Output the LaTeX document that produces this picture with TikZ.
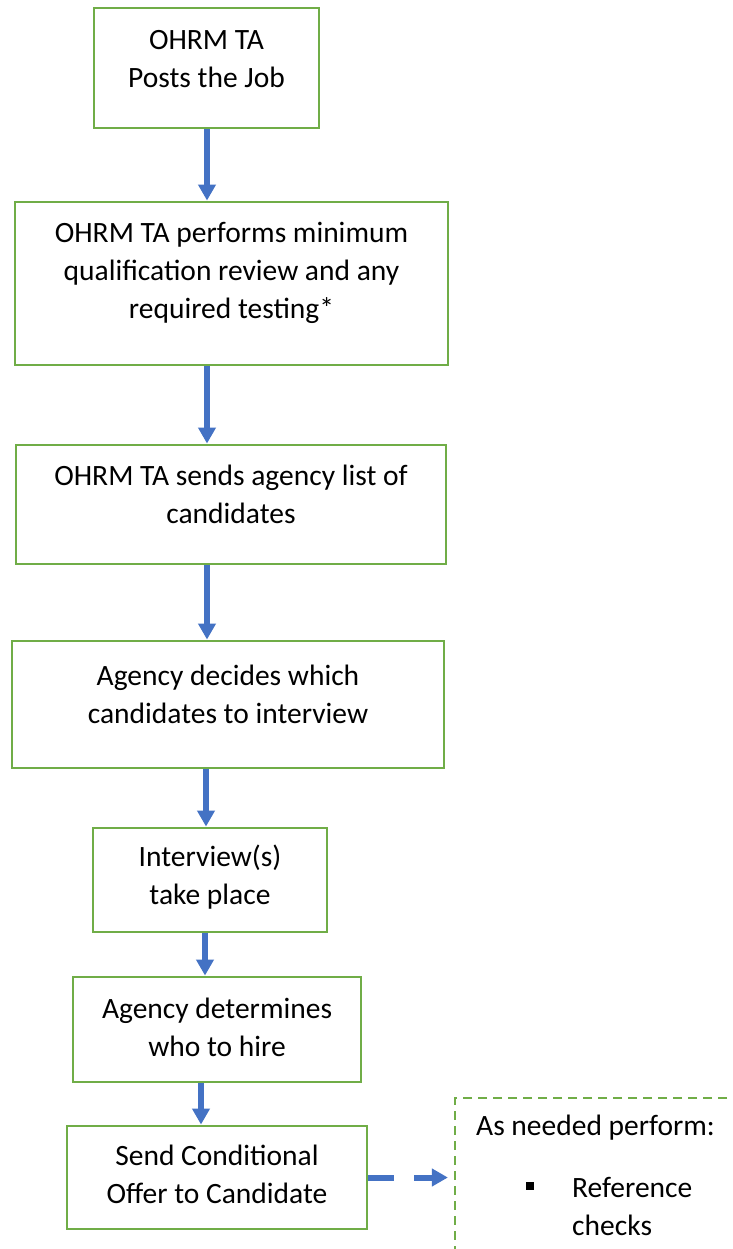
\documentclass[tikz,border=0pt]{standalone}
\usepackage{fontspec}
\setmainfont{Carlito}
\usetikzlibrary{arrows.meta}
\definecolor{boxgreen}{RGB}{112,173,71}
\definecolor{flowblue}{RGB}{68,114,196}
\tikzset{
  stepbox/.style={draw=boxgreen, line width=2.9pt, inner sep=0pt},
  notebox/.style={draw=boxgreen, line width=2.2pt, dash pattern=on 9pt off 6pt, inner sep=0pt},
  steptext/.style={align=center, font=\fontsize{29.5}{38}\selectfont, inner sep=0pt},
  notetext/.style={align=left, anchor=west, font=\fontsize{29.5}{38}\selectfont, inner sep=0pt},
  flow/.style={flowblue, line width=6pt, -{Triangle[width=17pt,length=16pt]}},
}

\begin{document}
\begin{tikzpicture}[x=1pt,y=-1pt]
\useasboundingbox (0,0) rectangle (732,1249);
\fill[white] (0,0) rectangle (732,1249);
\clip (0,0) rectangle (732,1249);

% the steps
\node[stepbox, minimum width=225, minimum height=120] (post) at (206.5,68) {};
\node[steptext] (post-t) at (206.5,59) {OHRM TA\\Posts the Job};

\node[stepbox, minimum width=433, minimum height=163] (review) at (231.5,283.5) {};
\node[steptext] (review-t) at (231.5,273) {OHRM TA performs minimum\\qualification review and any\\required testing*};

\node[stepbox, minimum width=430, minimum height=119] (sends) at (231,504.5) {};
\node[steptext] (sends-t) at (231,494.5) {OHRM TA sends agency list of\\candidates};

\node[stepbox, minimum width=432, minimum height=127] (decides) at (228,704.5) {};
\node[steptext] (decides-t) at (228,694) {Agency decides which\\candidates to interview};

\node[stepbox, minimum width=234, minimum height=104] (interview) at (210,880) {};
\node[steptext] (interview-t) at (210,877.5) {Interview(s)\\take place};

\node[stepbox, minimum width=288, minimum height=105] (hire) at (217,1029.5) {};
\node[steptext] (hire-t) at (217,1027.5) {Agency determines\\who to hire};

\node[stepbox, minimum width=300, minimum height=103] (offer) at (217,1177.5) {};
\node[steptext] (offer-t) at (217,1174) {Send Conditional\\Offer to Candidate};

% the optional checks
\node[notebox, minimum width=325, minimum height=192] (extra) at (617.5,1194) {};
\node[notetext] (extra-t) at (476,1128) {As needed perform:};
\node[fill, minimum size=8pt, inner sep=0pt] (bullet) at (530,1186) {};
\node[notetext] (checks) at (572,1206.5) {Reference\\checks};

% arrows
\draw[flow] (post.south -| 207,0) -- (review.north -| 207,0);
\draw[flow] (review.south -| 207,0) -- (sends.north -| 207,0);
\draw[flow] (sends.south -| 207,0) -- (decides.north -| 207,0);
\draw[flow] (decides.south -| 206,0) -- (interview.north -| 206,0);
\draw[flow] (interview.south -| 205,0) -- (hire.north -| 205,0);
\draw[flow] (hire.south -| 201,0) -- (offer.north -| 201,0);
\draw[flow, dash pattern=on 26pt off 20pt, shorten >=6pt] (offer.east) -- (extra.west |- offer.east);
\end{tikzpicture}
\end{document}
